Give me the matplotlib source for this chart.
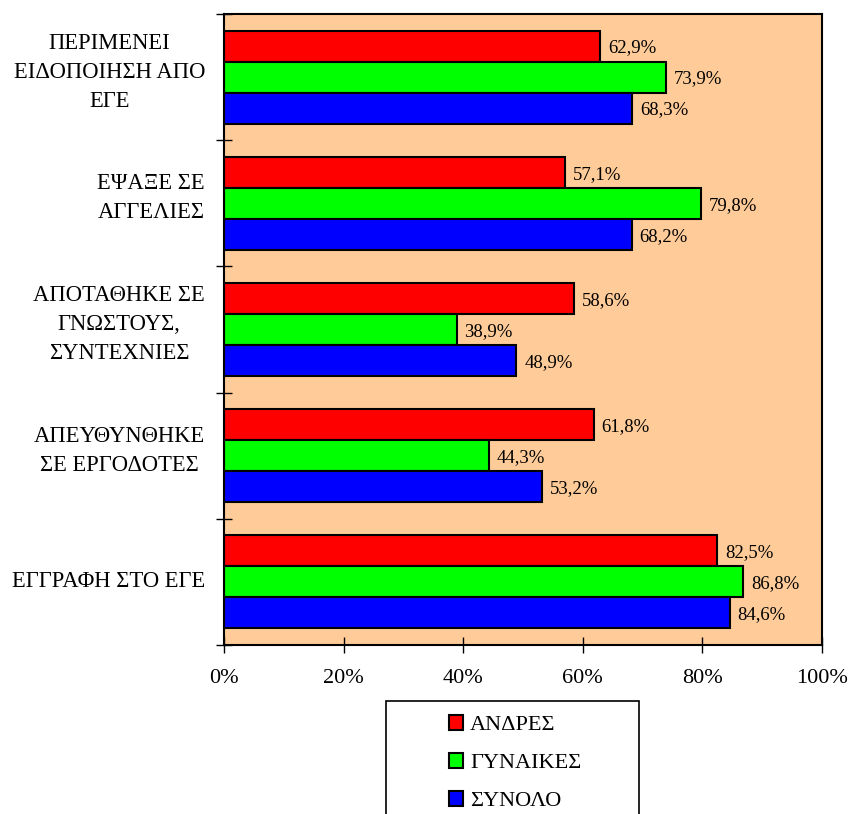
import numpy as np
import matplotlib.pyplot as plt
from matplotlib.patches import Rectangle
from matplotlib.transforms import ScaledTranslation

plt.rcParams['font.family'] = ['Liberation Serif', 'DejaVu Serif']

# categories, top to bottom
categories = ["ΠΕΡΙΜΕΝΕΙ\nΕΙΔΟΠΟΙΗΣΗ ΑΠΟ\nΕΓΕ",
              "ΕΨΑΞΕ ΣΕ\nΑΓΓΕΛΙΕΣ",
              "ΑΠΟΤΑΘΗΚΕ ΣΕ\nΓΝΩΣΤΟΥΣ,\nΣΥΝΤΕΧΝΙΕΣ",
              "ΑΠΕΥΘΥΝΘΗΚΕ\nΣΕ ΕΡΓΟΔΟΤΕΣ",
              "ΕΓΓΡΑΦΗ ΣΤΟ ΕΓΕ"]
men = [62.9, 57.1, 58.6, 61.8, 82.5]
women = [73.9, 79.8, 38.9, 44.3, 86.8]
total = [68.3, 68.2, 48.9, 53.2, 84.6]

series = [("ΑΝΔΡΕΣ", men, "#ff0000"),
          ("ΓΥΝΑΙΚΕΣ", women, "#00ff00"),
          ("ΣΥΝΟΛΟ", total, "#0000ff")]

xticks = [0, 20, 40, 60, 80, 100]

fig = plt.figure(figsize=(8.5, 8.14), dpi=100)
ax = fig.add_axes([224/850, 1-645/814, (822-224)/850, (645-14)/814])
ax.set_facecolor("#ffcc99")

n = len(categories)
pos = np.arange(n)[::-1]
h = 0.246
offsets = [h, 0, -h]

for (name, vals, col), off in zip(series, offsets):
    bars = ax.barh(pos + off, vals, height=h, color=col,
                   edgecolor="black", linewidth=1.5, label=name)
    for b, v in zip(bars, vals):
        ax.text(b.get_width() + 1.3, b.get_y() + b.get_height()/2 - 0.015,
                f"{v:.1f}%".replace(".", ","), va="center", ha="left",
                fontsize=13.5)

ax.set_xlim(0, 100)
ax.set_ylim(-0.5, n - 0.5)

ax.set_xticks(xticks)
ax.set_xticklabels([f"{t}%" for t in xticks], fontsize=16)
ax.tick_params(axis="x", direction="inout", length=12, width=1, pad=11)

# ticks sit on the group boundaries
ax.set_yticks(np.arange(-0.5, n, 1.0))
ax.set_yticklabels([])
ax.tick_params(axis="y", direction="inout", length=12, width=1)

# category names, right aligned left of the axis
for p, cat in zip(pos, categories):
    lift = 5 if "\n" in cat else 0
    tr = ax.get_yaxis_transform() + ScaledTranslation(-19/100, lift/100, fig.dpi_scale_trans)
    t = ax.text(0, p, cat, transform=tr, ha="right", va="center",
                multialignment="center", fontsize=16.3)
    t.set_linespacing(1.5)

for s in ax.spines.values():
    s.set_linewidth(1.5)

# legend box running off the bottom edge
fig.patches.append(Rectangle((386/850, -0.02), (639-386)/850, 0.02 + (814-701)/814,
                             transform=fig.transFigure, facecolor="white",
                             edgecolor="black", linewidth=1.2))
leg = fig.legend(loc="upper left", bbox_to_anchor=(429/850, 1-695/814),
                 frameon=False, fontsize=16, handlelength=0.64, handleheight=0.64,
                 handletextpad=0.3, labelspacing=0.8)

fig.savefig("out.png", dpi=100)
